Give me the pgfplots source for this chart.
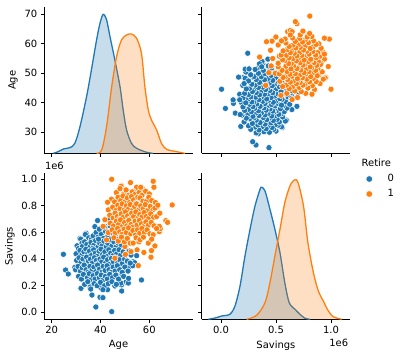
\documentclass[border=0pt]{standalone}
\usepackage{pgfplots}
\pgfplotsset{compat=1.18}
\usepackage{pgfplotstable}
\usepackage{fontspec}
\setmainfont{DejaVu Sans}
\definecolor{c0}{HTML}{1F77B4}
\definecolor{c1}{HTML}{FF7F0E}

% Retire = 0 : Age, Savings (x 1e6)
\pgfplotstableread[row sep=\\]{
age sav \\
24.8 0.436 \\ 25.7 0.318 \\ 26.8 0.288 \\ 29.5 0.338 \\ 31.3 0.361 \\ 32.0 0.180 \\
36.5 0.130 \\ 38.1 0.040 \\ 39.8 0.113 \\ 44.6 0.005 \\ 38.8 0.690 \\ 43.5 0.700 \\
37.7 0.644 \\ 34.1 0.594 \\ 31.6 0.556 \\ 56.8 0.243 \\ 54.8 0.426 \\ 50.4 0.226 \\
48.6 0.206 \\ 45.9 0.198 \\ 42.5 0.180 \\ 40.1 0.185 \\ 53.4 0.380 \\ 31.0 0.448 \\
42.9 0.170 \\ 51.4 0.220 \\ 48.3 0.220 \\ 54.0 0.373 \\ 51.7 0.340 \\ 42.1 0.645 \\
41.0 0.110 \\ 53.2 0.350 \\ 50.7 0.376 \\ 48.7 0.160 \\ 49.4 0.320 \\ 48.7 0.290 \\
31.9 0.550 \\ 32.4 0.520 \\ 33.8 0.585 \\ 35.2 0.560 \\ 36.3 0.550 \\ 37.0 0.575 \\
38.2 0.600 \\ 39.0 0.565 \\ 40.3 0.590 \\ 41.2 0.555 \\ 42.0 0.610 \\ 43.1 0.575 \\
44.3 0.600 \\ 45.0 0.560 \\ 46.2 0.585 \\ 47.5 0.550 \\ 44.0 0.650 \\ 41.5 0.640 \\
39.5 0.625 \\
30.4 0.500 \\ 31.0 0.480 \\ 32.6 0.495 \\ 33.5 0.530 \\ 34.4 0.510 \\ 35.6 0.490 \\
36.1 0.525 \\ 37.3 0.505 \\ 38.0 0.540 \\ 38.9 0.490 \\ 39.7 0.520 \\ 40.6 0.500 \\
41.4 0.535 \\ 42.3 0.490 \\ 43.0 0.520 \\ 43.9 0.545 \\ 44.7 0.500 \\ 45.5 0.530 \\
46.4 0.490 \\ 47.2 0.520 \\ 48.5 0.500 \\ 49.6 0.535 \\ 50.3 0.490 \\ 36.8 0.480 \\
39.2 0.550 \\
30.0 0.440 \\ 31.6 0.465 \\ 32.3 0.430 \\ 33.2 0.455 \\ 34.0 0.475 \\ 34.8 0.440 \\
35.5 0.460 \\ 36.4 0.430 \\ 37.2 0.470 \\ 37.9 0.445 \\ 38.6 0.420 \\ 39.4 0.460 \\
40.2 0.475 \\ 40.9 0.435 \\ 41.8 0.455 \\ 42.6 0.420 \\ 43.4 0.470 \\ 44.2 0.445 \\
45.1 0.425 \\ 45.8 0.465 \\ 46.7 0.440 \\ 47.6 0.470 \\ 48.3 0.430 \\ 49.3 0.455 \\
50.6 0.440 \\ 51.8 0.460 \\ 52.5 0.430 \\
30.2 0.390 \\ 31.2 0.410 \\ 32.0 0.375 \\ 32.8 0.400 \\ 33.6 0.365 \\ 34.3 0.415 \\
35.0 0.385 \\ 35.9 0.400 \\ 36.7 0.370 \\ 37.5 0.410 \\ 38.3 0.390 \\ 39.0 0.365 \\
39.8 0.400 \\ 40.5 0.380 \\ 41.3 0.415 \\ 42.1 0.370 \\ 42.9 0.395 \\ 43.7 0.360 \\
44.5 0.405 \\ 45.3 0.380 \\ 46.1 0.410 \\ 47.0 0.370 \\ 47.8 0.395 \\ 48.8 0.365 \\
49.9 0.400 \\ 51.0 0.385 \\ 52.2 0.370 \\
29.8 0.320 \\ 30.8 0.345 \\ 31.8 0.310 \\ 32.5 0.335 \\ 33.3 0.355 \\ 34.1 0.320 \\
34.9 0.300 \\ 35.7 0.345 \\ 36.5 0.315 \\ 37.3 0.340 \\ 38.1 0.305 \\ 38.8 0.355 \\
39.6 0.325 \\ 40.4 0.300 \\ 41.1 0.345 \\ 41.9 0.315 \\ 42.7 0.350 \\ 43.5 0.320 \\
44.4 0.300 \\ 45.2 0.340 \\ 46.0 0.310 \\ 46.9 0.350 \\ 47.9 0.320 \\ 48.9 0.300 \\
50.0 0.340 \\ 51.3 0.310 \\
31.0 0.270 \\ 32.2 0.250 \\ 33.0 0.285 \\ 34.6 0.260 \\ 35.4 0.290 \\ 36.2 0.245 \\
37.0 0.275 \\ 37.8 0.250 \\ 38.7 0.290 \\ 39.5 0.260 \\ 40.3 0.280 \\ 41.2 0.245 \\
42.0 0.270 \\ 42.8 0.250 \\ 43.8 0.285 \\ 44.9 0.260 \\ 46.3 0.280 \\ 47.4 0.250 \\
49.5 0.270 \\ 51.5 0.255 \\
33.5 0.210 \\ 34.8 0.230 \\ 35.8 0.190 \\ 37.4 0.215 \\ 38.6 0.200 \\ 40.0 0.225 \\
41.7 0.200 \\ 43.2 0.215 \\ 44.7 0.230 \\ 46.5 0.210 \\ 36.0 0.175 \\ 41.0 0.170 \\
}\zerodata

% Retire = 1
\pgfplotstableread[row sep=\\]{
age sav \\
44.6 1.000 \\ 69.4 0.807 \\ 66.8 0.689 \\ 61.6 0.985 \\ 61.9 0.940 \\ 62.3 0.499 \\
60.9 0.464 \\ 60.7 0.414 \\ 55.5 0.351 \\ 52.5 0.456 \\ 48.6 0.952 \\ 52.3 0.975 \\
54.8 0.940 \\ 57.2 0.927 \\ 64.1 0.606 \\ 63.0 0.789 \\ 43.2 0.599 \\ 42.5 0.544 \\
45.9 0.406 \\ 50.0 0.494 \\ 48.4 0.947 \\ 53.4 0.910 \\ 64.5 0.630 \\ 67.5 0.676 \\
46.5 0.900 \\ 48.0 0.930 \\ 49.5 0.890 \\ 50.5 0.920 \\ 51.6 0.880 \\ 53.0 0.905 \\
54.0 0.885 \\ 55.8 0.900 \\ 57.0 0.880 \\ 58.5 0.910 \\ 60.0 0.890 \\ 56.5 0.940 \\
44.5 0.850 \\ 45.8 0.830 \\ 47.2 0.865 \\ 48.3 0.840 \\ 49.2 0.875 \\ 50.1 0.830 \\
51.0 0.860 \\ 51.9 0.825 \\ 52.7 0.870 \\ 53.6 0.845 \\ 54.5 0.820 \\ 55.3 0.865 \\
56.2 0.860 \\ 57.4 0.835 \\ 58.9 0.835 \\ 59.8 0.865 \\ 61.0 0.840 \\ 62.5 0.825 \\
42.9 0.827 \\
43.2 0.770 \\ 45.0 0.790 \\ 46.3 0.765 \\ 47.1 0.805 \\ 48.0 0.780 \\ 48.9 0.815 \\
49.8 0.770 \\ 50.6 0.800 \\ 51.4 0.775 \\ 52.2 0.810 \\ 53.1 0.765 \\ 54.0 0.795 \\
54.8 0.815 \\ 55.7 0.770 \\ 56.5 0.800 \\ 57.5 0.780 \\ 58.4 0.810 \\ 59.3 0.765 \\
60.4 0.795 \\ 61.5 0.770 \\ 62.3 0.784 \\ 63.5 0.805 \\
41.8 0.696 \\ 43.8 0.730 \\ 45.2 0.710 \\ 46.0 0.745 \\ 46.9 0.720 \\ 47.7 0.700 \\
48.5 0.740 \\ 49.4 0.715 \\ 50.2 0.755 \\ 51.1 0.725 \\ 51.9 0.700 \\ 52.8 0.745 \\
53.6 0.720 \\ 54.5 0.755 \\ 55.3 0.705 \\ 56.1 0.735 \\ 57.0 0.715 \\ 57.9 0.750 \\
58.8 0.720 \\ 59.7 0.705 \\ 60.6 0.740 \\ 61.8 0.715 \\ 63.0 0.720 \\ 64.3 0.745 \\
41.1 0.646 \\ 44.0 0.670 \\ 45.4 0.650 \\ 46.5 0.685 \\ 47.4 0.660 \\ 48.2 0.695 \\
49.0 0.645 \\ 49.9 0.675 \\ 50.8 0.650 \\ 51.6 0.690 \\ 52.5 0.660 \\ 53.3 0.640 \\
54.2 0.685 \\ 55.0 0.655 \\ 55.9 0.690 \\ 56.8 0.665 \\ 57.7 0.645 \\ 58.6 0.680 \\
59.6 0.655 \\ 60.8 0.675 \\ 62.0 0.650 \\ 64.1 0.646 \\
44.8 0.620 \\ 46.0 0.595 \\ 47.0 0.630 \\ 47.9 0.605 \\ 48.8 0.585 \\ 49.7 0.625 \\
50.6 0.600 \\ 51.5 0.635 \\ 52.4 0.590 \\ 53.3 0.615 \\ 54.3 0.580 \\ 55.2 0.620 \\
56.1 0.595 \\ 57.0 0.630 \\ 58.0 0.600 \\ 59.1 0.620 \\ 60.3 0.590 \\ 61.6 0.583 \\
63.0 0.630 \\
45.5 0.560 \\ 47.3 0.535 \\ 48.6 0.565 \\ 49.8 0.530 \\ 51.0 0.555 \\ 52.2 0.520 \\
53.4 0.520 \\ 54.6 0.560 \\ 55.8 0.530 \\ 56.2 0.546 \\ 57.6 0.565 \\ 59.6 0.520 \\
61.0 0.550 \\
50.2 0.435 \\ 55.0 0.470 \\ 57.8 0.450 \\
}\onedata

\pgfplotsset{
  pp/.style={scale only axis, width=148.4bp, height=146bp,
    axis x line*=bottom, axis y line*=left,
    axis line style={-, line width=0.8bp, black},
    tick align=outside, major tick length=3.5bp,
    every tick/.style={black, line width=0.8bp},
    font=\fontsize{10}{12}\selectfont,
    /pgf/number format/assume math mode=true,
    clip=false},
  hid/.style={scale only axis, width=148.4bp, height=146bp, hide axis, clip=false},
  agex/.style={xmin=16.97, xmax=77.8, xtick={20,40,60}},
  agey/.style={ymin=22.88, ymax=72.37, ytick={30,40,50,60,70}},
  savx/.style={xmin=-0.1755, xmax=1.1736, xtick={0,0.5,1},
    xticklabel style={/pgf/number format/.cd, fixed, fixed zerofill, precision=1}},
  savy/.style={ymin=-0.0526, ymax=1.045, ytick={0,0.2,0.4,0.6,0.8,1},
    yticklabel style={/pgf/number format/.cd, fixed, fixed zerofill, precision=1}},
  noxlab/.style={xticklabels={,,}},
  noylab/.style={yticklabels={,,,,,}},
  sc0/.style={only marks, mark=*, mark size=3.1bp, mark options={fill=c0, draw=white, line width=0.5bp}},
  sc1/.style={only marks, mark=*, mark size=3.1bp, mark options={fill=c1, draw=white, line width=0.5bp}},
}

\begin{document}
\begin{tikzpicture}
\useasboundingbox (0,0) rectangle (402bp,357bp);

% ---- top-left: KDE of Age
\begin{axis}[pp, agex, agey, noxlab, at={(44.3bp,203.7bp)}, anchor=south west,
  ylabel={Age}]
\end{axis}
\begin{axis}[hid, xmin=16.97, xmax=77.8, ymin=0, ymax=438,
  at={(44.3bp,203.7bp)}, anchor=south west]
\addplot[draw=none, fill=c0, fill opacity=0.25, smooth] coordinates {
(20.7,0) (22.7,5) (24.8,13) (27.5,17) (29.5,30) (31.6,80) (34.3,170) (36.4,255)
(38.4,340) (39.8,390) (41.1,417) (42.5,400) (43.9,350) (45.9,280) (48.0,200)
(49.3,130) (50.7,70) (52.7,30) (54.8,15) (58.9,3) (61.6,0)} \closedcycle;
\addplot[c0, line width=1.3bp, smooth] coordinates {
(20.7,0) (22.7,5) (24.8,13) (27.5,17) (29.5,30) (31.6,80) (34.3,170) (36.4,255)
(38.4,340) (39.8,390) (41.1,417) (42.5,400) (43.9,350) (45.9,280) (48.0,200)
(49.3,130) (50.7,70) (52.7,30) (54.8,15) (58.9,3) (61.6,0)};
\addplot[draw=none, fill=c1, fill opacity=0.25, smooth] coordinates {
(38.4,0) (40.5,10) (42.5,80) (44.6,200) (46.6,290) (48.6,340) (50.7,355) (52.7,358)
(54.8,345) (56.8,300) (58.2,200) (59.6,130) (60.9,100) (63.0,70) (65.0,30)
(67.1,12) (71.2,5) (74.6,0)} \closedcycle;
\addplot[c1, line width=1.3bp, smooth] coordinates {
(38.4,0) (40.5,10) (42.5,80) (44.6,200) (46.6,290) (48.6,340) (50.7,355) (52.7,358)
(54.8,345) (56.8,300) (58.2,200) (59.6,130) (60.9,100) (63.0,70) (65.0,30)
(67.1,12) (71.2,5) (74.6,0)};
\end{axis}

% ---- top-right: Savings vs Age
\begin{axis}[pp, savx, agey, noxlab, noylab, at={(201.7bp,203.7bp)}, anchor=south west]
\addplot[sc0] table[x=sav, y=age] {\zerodata};
\addplot[sc1] table[x=sav, y=age] {\onedata};
\end{axis}

% ---- bottom-left: Age vs Savings
\begin{axis}[pp, agex, savy, at={(44.3bp,37.7bp)}, anchor=south west,
  xlabel={Age}, ylabel={Savings}]
\addplot[sc0] table[x=age, y=sav] {\zerodata};
\addplot[sc1] table[x=age, y=sav] {\onedata};
\end{axis}

% ---- bottom-right: KDE of Savings
\begin{axis}[pp, savx, savy, noylab, at={(201.7bp,37.7bp)}, anchor=south west,
  xlabel={Savings}]
\end{axis}
\begin{axis}[hid, xmin=-0.1755, xmax=1.1736, ymin=0, ymax=438,
  at={(201.7bp,37.7bp)}, anchor=south west]
\addplot[draw=none, fill=c0, fill opacity=0.25, smooth] coordinates {
(-0.115,0) (-0.04,5) (0.006,10) (0.08,15) (0.127,40) (0.173,100) (0.218,190)
(0.264,270) (0.309,340) (0.355,390) (0.37,396) (0.40,385) (0.445,330) (0.49,270)
(0.536,200) (0.58,110) (0.62,50) (0.673,30) (0.718,15) (0.764,3) (0.81,0)} \closedcycle;
\addplot[c0, line width=1.3bp, smooth] coordinates {
(-0.115,0) (-0.04,5) (0.006,10) (0.08,15) (0.127,40) (0.173,100) (0.218,190)
(0.264,270) (0.309,340) (0.355,390) (0.37,396) (0.40,385) (0.445,330) (0.49,270)
(0.536,200) (0.58,110) (0.62,50) (0.673,30) (0.718,15) (0.764,3) (0.81,0)};
\addplot[draw=none, fill=c1, fill opacity=0.25, smooth] coordinates {
(0.233,0) (0.324,12) (0.40,50) (0.445,110) (0.49,190) (0.536,270) (0.58,350)
(0.627,400) (0.667,418) (0.70,410) (0.75,340) (0.79,230) (0.84,140) (0.885,85)
(0.93,55) (0.976,25) (1.02,8) (1.097,0)} \closedcycle;
\addplot[c1, line width=1.3bp, smooth] coordinates {
(0.233,0) (0.324,12) (0.40,50) (0.445,110) (0.49,190) (0.536,270) (0.58,350)
(0.627,400) (0.667,418) (0.70,410) (0.75,340) (0.79,230) (0.84,140) (0.885,85)
(0.93,55) (0.976,25) (1.02,8) (1.097,0)};
\end{axis}

% ---- overlay in pixel coordinates: legend and offset texts
\begin{axis}[scale only axis, width=402bp, height=357bp, at={(0,0)}, anchor=south west,
  xmin=0, xmax=402, ymin=0, ymax=357, y dir=reverse, hide axis, clip=false]
\addplot[sc0, mark size=3.3bp] coordinates {(369.3,179.0)};
\addplot[sc1, mark size=3.3bp] coordinates {(369.3,194.0)};
\node[anchor=base, inner sep=0, font=\fontsize{10}{12}\selectfont] at (axis cs:376.3,166.7) {Retire};
\node[anchor=base, inner sep=0, font=\fontsize{10}{12}\selectfont] at (axis cs:390.8,181.7) {0};
\node[anchor=base, inner sep=0, font=\fontsize{10}{12}\selectfont] at (axis cs:390.8,196.7) {1};
\node[anchor=base west, inner sep=0, font=\fontsize{10}{12}\selectfont] at (axis cs:44.8,169.8) {1e6};
\node[anchor=base east, inner sep=0, font=\fontsize{10}{12}\selectfont] at (axis cs:348.3,346.7) {1e6};
\end{axis}
\end{tikzpicture}
\end{document}
